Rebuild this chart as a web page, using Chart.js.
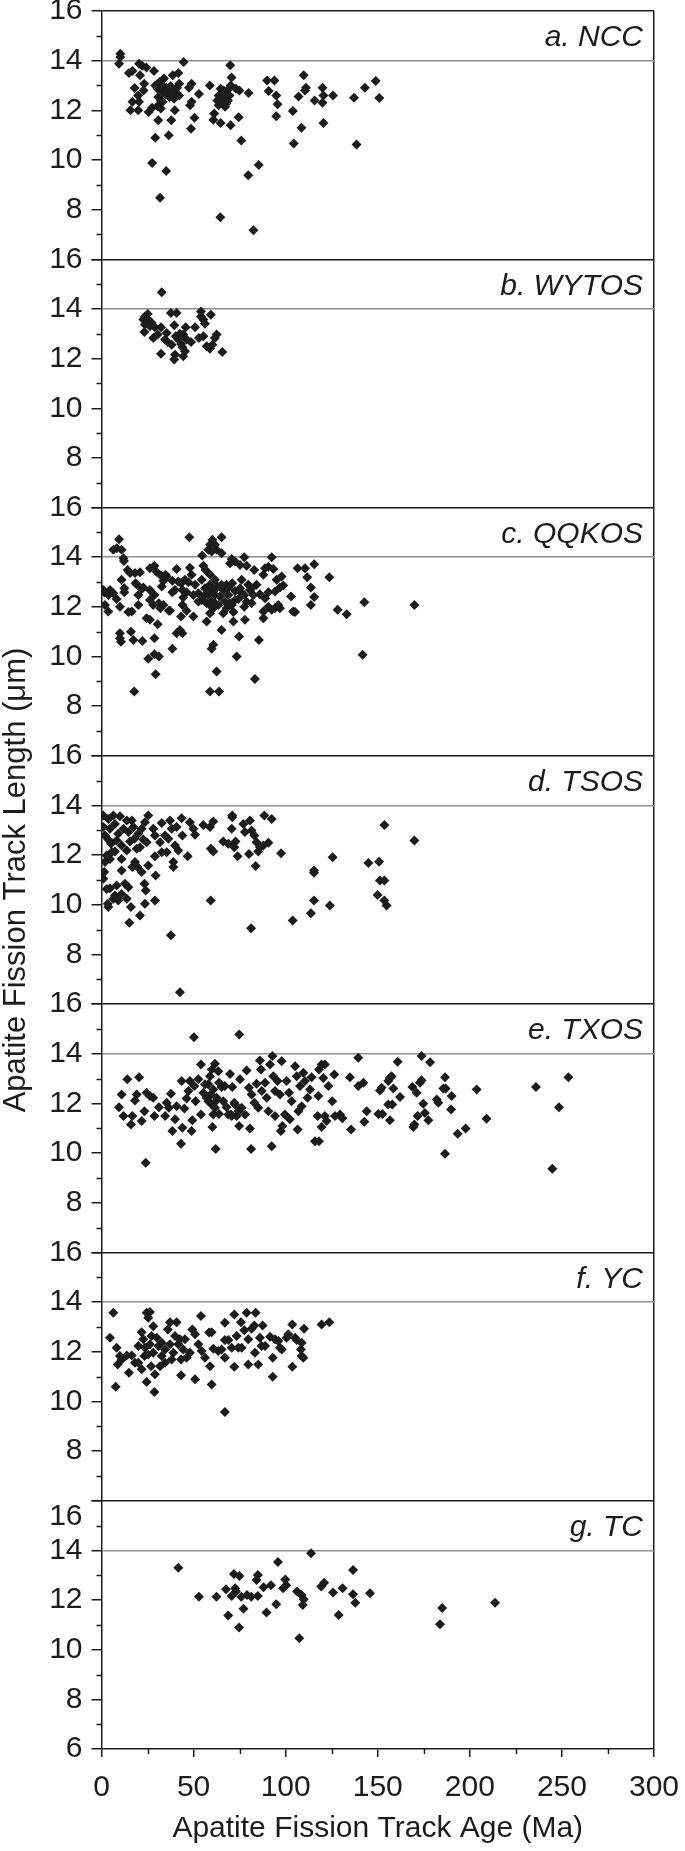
<!DOCTYPE html>
<html>
<head>
<meta charset="utf-8">
<script src="https://cdn.jsdelivr.net/npm/chart.js@4.4.0/dist/chart.umd.min.js"></script>
<style>
	html, body { margin: 0; padding: 0; background: #fff; }
	canvas { display: block; }
</style>
</head>
<body>
<canvas id="aftChart" width="685" height="1851"></canvas>
<script>
// Apatite fission track age (Ma) vs mean track length (µm), one list of [age, length] per region

const nccPoints = [
	[10.2,14.28],[10.2,14.15],[9.5,13.88],[14.9,13.5],[16.8,13.58],[20.4,13.88],[22.1,13.79],[24.4,13.72],[20.9,13.41],[18.0,12.9],
	[23.2,13.07],[22.8,12.8],[19.9,12.6],[16.8,12.34],[20.4,12.34],[15.7,12.0],[19.9,12.0],[28.5,13.58],[25.6,11.93],[27.5,12.1],
	[29.2,13.0],[31.5,13.14],[33.9,13.28],[30.4,12.87],[32.7,12.8],[30.8,12.54],[32.2,12.4],[30.4,12.16],[32.2,12.07],[35.1,12.91],
	[36.3,12.74],[37.5,12.97],[38.7,13.41],[39.8,12.83],[39.4,12.47],[41.0,12.91],[41.7,13.5],[42.2,13.07],[40.3,12.66],[39.8,12.0],
	[44.6,13.95],[30.8,11.6],[37.9,11.6],[29.2,10.9],[36.5,11.0],[48.6,11.26],[48.1,12.2],[48.9,12.34],[47.5,12.91],[48.9,13.07],
	[50.5,11.7],[52.9,12.66],[27.5,9.88],[35.1,9.56],[31.8,8.48],[58.8,13.0],[61.2,11.87],[60.7,11.62],[62.9,12.4],[63.6,12.2],
	[64.7,12.87],[65.5,12.3],[66.4,12.47],[67.1,12.6],[67.8,12.27],[68.3,12.8],[68.7,12.4],[69.5,12.6],[69.9,13.81],[70.6,13.32],
	[70.1,13.0],[64.7,11.49],[70.1,11.4],[73.0,12.87],[74.9,12.8],[74.5,11.72],[75.9,10.78],[64.5,7.69],[79.7,9.38],[85.4,9.8],
	[82.5,7.17],[79.9,12.7],[89.9,13.2],[93.9,13.2],[90.8,12.78],[94.9,12.6],[95.6,12.24],[94.9,11.76],[103.9,11.97],[104.4,10.66],
	[107.0,12.56],[108.6,11.3],[109.8,13.41],[111.0,12.91],[110.5,12.8],[115.7,12.4],[120.0,12.91],[120.5,12.6],[120.0,12.3],[120.5,11.49],
	[125.7,12.6],[137.1,12.51],[138.5,10.62],[143.0,12.91],[148.9,13.18],[150.8,12.5],[33.2,12.97],[34.6,12.65],[37.0,12.54],[38.7,12.74],
	[31.5,13.0],[33.2,12.34],[42.2,12.6],[63.6,12.6],[65.9,12.66],[67.1,12.14],[68.3,12.54],[66.4,12.8]
];

const wytosPoints = [
	[32.7,14.67],[23.6,13.7],[25.1,13.8],[22.7,13.57],[25.4,13.57],[27.2,13.44],[23.6,13.37],[23.3,13.07],[26.3,13.3],[29.0,13.26],
	[32.3,13.26],[28.1,12.83],[30.5,12.97],[35.4,13.03],[34.5,12.77],[35.9,12.67],[37.7,13.84],[40.8,13.84],[39.5,13.34],[40.3,12.9],
	[41.7,12.77],[43.2,12.59],[44.4,12.97],[45.7,13.26],[46.2,12.77],[43.9,12.46],[48.6,12.67],[45.3,12.3],[44.4,12.09],[39.9,12.16],
	[39.5,11.96],[32.3,12.2],[50.8,13.26],[54.0,13.9],[54.0,13.7],[55.3,13.57],[56.2,13.4],[59.4,13.77],[52.9,12.83],[55.3,12.9],
	[57.1,12.5],[58.9,12.4],[60.2,12.56],[62.5,12.97],[61.6,12.83],[65.6,12.27],[38.1,12.56],[42.6,13.0]
];

const qqkosPoints = [
	[169.9,12.08],
	[9.5,14.72],[6.4,14.3],[8.2,14.36],[10.9,14.3],[11.9,13.96],[12.2,13.85],[47.7,14.8],[65.2,14.8],[60.2,14.7],[58.9,14.5],
	[61.6,14.5],[58.0,14.3],[62.5,14.3],[59.8,14.23],[65.2,14.16],[54.7,14.07],[77.5,14.0],[92.4,14.0],[70.7,13.93],
	[14.2,13.49],[15.5,13.36],[18.2,13.36],[20.9,13.4],[10.9,13.09],[12.4,12.75],[18.5,12.95],[26.3,13.56],[28.7,13.66],[29.9,13.42],
	[32.3,13.26],[33.6,13.05],[34.8,13.29],[40.8,13.53],[38.5,13.05],[48.0,13.58],[48.9,13.29],[45.3,13.09],[43.2,12.95],[55.3,13.66],
	[56.5,13.49],[58.9,13.29],[69.8,13.76],[72.5,13.83],[75.2,13.69],[78.8,13.66],[82.9,13.49],[88.8,13.56],[90.6,13.62],[93.3,13.53],
	[87.9,13.29],[95.1,13.09],[97.8,13.22],[106.5,13.56],[110.5,13.56],[115.5,13.72],[111.7,13.19],[123.7,13.19],[113.7,12.78],[115.5,12.4],
	[113.7,12.08],[128.2,11.88],[133.1,11.7],[142.7,12.19],[141.8,10.07],
	[1.0,12.68],[1.5,12.59],[3.7,12.48],[6.4,12.55],[8.2,12.32],[4.6,12.68],[1.9,12.08],[3.7,11.81],[10.0,12.01],[12.4,12.59],
	[16.4,11.81],[19.1,12.91],[22.7,12.78],[26.3,12.68],[28.7,12.48],[26.3,12.28],[28.1,12.08],[31.1,12.15],[32.0,11.95],[33.6,12.08],
	[37.2,11.84],[32.7,12.82],[35.4,13.22],[39.9,12.68],[38.5,12.59],[41.7,13.02],[43.9,12.68],[44.4,12.38],[46.2,12.59],[47.2,12.99],
	[43.9,12.08],[46.2,11.84],[43.2,11.61],[49.9,11.61],[49.9,12.48],[50.8,12.89],[52.6,12.55],[54.4,12.28],[52.6,12.22],[54.4,13.09],
	[56.2,12.75],[58.0,12.48],[57.1,12.15],[58.9,12.89],[59.8,12.22],[60.7,12.62],[60.7,11.95],[58.9,11.74],[57.1,11.41],[61.6,13.09],
	[63.1,12.82],[64.3,12.42],[63.4,12.08],[66.1,12.68],[66.1,11.74],[67.9,12.89],[68.8,12.48],[69.8,12.15],[71.0,12.95],[72.5,12.64],
	[71.6,11.79],[71.6,11.41],[74.3,12.32],[75.2,12.75],[76.1,13.09],[77.5,12.48],[77.5,12.01],[77.9,11.48],[79.7,12.89],[80.6,12.68],
	[82.4,12.48],[81.5,12.15],[84.2,12.89],[86.0,12.51],[88.8,12.35],[90.6,12.59],[87.9,11.81],[87.9,11.54],[90.6,12.01],[92.4,11.88],
	[94.2,11.95],[96.0,12.08],[96.9,11.95],[94.2,12.62],[96.9,12.78],[98.7,12.86],[102.9,12.42],[104.1,11.81],[105.1,11.79],
	[65.2,11.07],[74.7,10.81],[85.5,10.67],[73.4,10.0],[83.3,9.1],[62.5,9.4],[59.8,10.31],[60.7,10.47],[58.9,8.59],[63.8,8.59],
	[17.8,8.59],[29.4,9.29],[25.4,9.91],[28.7,10.09],[31.2,10.0],[28.7,10.74],[22.2,10.63],[17.3,10.67],[16.0,11.0],[10.0,10.94],
	[10.6,10.6],[24.5,11.54],[26.3,11.48],[30.5,11.3],[38.5,10.31],[40.8,10.94],[42.6,11.07],[43.9,10.94],[36.6,11.84],[14.6,11.79],
	[10.0,10.74],[20.0,12.08],[20.0,12.48],[21.8,12.72],
	[56.2,12.48],[61.6,12.48],[67.0,12.21],[72.5,12.28],[65.2,12.89],[68.8,12.75],[59.8,12.68],[76.1,12.55],[70.7,12.08],[68.0,11.95],
	[78.8,12.21],[81.5,12.75],[61.6,12.15],[58.9,12.08]
];

const tsosPoints = [
	[153.6,13.22],[169.9,12.59],[150.7,11.74],[151.2,10.98],[153.6,10.98],[149.9,10.4],[153.6,10.17],[154.8,9.97],
	[144.9,11.68],[125.5,11.92],[124.0,9.97],[115.4,11.38],[115.4,11.29],[115.4,10.17],[113.7,9.66],[103.8,9.37],[97.5,12.08],[92.4,13.46],
	[88.4,13.6],[81.2,9.06],[83.7,11.56],[80.1,12.05],[73.9,11.96],[80.6,13.4],[77.0,13.26],[77.9,12.93],[81.5,12.99],[83.0,12.79],
	[84.2,12.52],[86.0,12.32],[87.9,12.39],[90.6,12.5],[85.1,12.15],[71.0,13.53],[70.7,13.06],[66.1,12.55],[68.9,12.46],[72.8,12.55],
	[72.1,12.32],[71.0,13.6],[60.7,13.36],[58.9,13.13],[55.3,13.22],[59.4,12.26],[60.7,12.15],[59.3,10.17],[42.6,6.48],[37.7,8.77],
	[50.8,12.82],[49.9,13.06],[48.0,13.33],[46.8,11.96],[43.5,13.49],[43.9,12.79],[40.8,13.13],[39.9,12.39],[41.7,12.19],[37.2,13.4],
	[38.1,13.06],[36.3,12.66],[39.0,11.52],[39.0,11.72],[35.4,12.12],[32.7,13.3],[31.8,12.52],[29.0,12.79],[29.0,11.96],[29.4,11.18],
	[25.4,13.6],[23.6,13.33],[25.4,11.58],[21.8,11.32],[24.5,12.52],[19.6,11.52],[16.7,11.52],[10.9,11.38],[29.0,10.17],[23.6,10.04],
	[24.0,10.58],[23.3,10.85],[20.9,9.57],[15.1,9.28],[16.0,9.91],[3.7,9.91],[3.4,10.04],[2.8,10.64],[4.6,10.67],[7.3,10.38],
	[9.1,10.17],[10.9,10.44],[13.7,10.24],[14.6,10.71],[12.8,10.85],[8.2,10.78],[6.4,10.24],[1.5,11.32],[1.0,11.05],[1.9,11.72],
	[2.8,11.99],[5.5,12.12],[4.6,11.85],[10.9,11.85],[18.2,11.72],[19.1,12.26],[17.8,12.66],[13.7,12.19],[10.9,12.39],[8.2,12.59],
	[5.2,12.46],[1.9,12.79],[1.0,13.13],[1.0,13.6],[3.7,13.46],[6.4,13.6],[10.0,13.57],[13.7,13.4],[16.4,13.4],[17.3,13.13],
	[14.6,12.93],[11.9,13.06],[7.3,13.26],[4.6,13.06],[9.1,12.86],[3.7,12.63],[7.3,12.15],[15.5,12.55],[20.9,12.32],[22.7,12.63],
	[20.0,12.86],[21.8,13.06],[32.7,12.12],[28.1,13.06],[34.5,12.79]
];

const txosPoints = [
	[160.8,13.68],[173.8,13.91],[178.4,13.66],[186.5,13.06],[156.6,13.03],[157.5,13.1],[155.7,12.9],[152.1,12.63],[151.2,12.52],[158.5,12.6],
	[162.1,12.26],[155.7,11.96],[157.9,11.96],[150.3,11.58],[152.5,11.58],[156.6,11.32],[168.8,12.66],[171.1,12.43],[173.8,12.93],[172.9,12.83],
	[174.7,11.99],[175.6,11.62],[177.5,11.32],[171.7,11.49],[169.9,11.15],[169.3,11.05],[182.0,12.16],[182.9,12.03],[185.6,12.6],[186.9,12.6],
	[190.1,12.3],[189.8,11.76],[193.4,10.78],[197.7,10.99],[186.5,9.97],[203.7,12.56],[209.1,11.38],[235.9,12.66],[253.5,13.06],[248.4,11.85],
	[244.8,9.37],
	[50.2,14.67],[74.8,14.78],[24.0,9.61],[9.5,11.85],[10.9,12.36],[11.9,11.49],[14.0,12.97],[16.0,11.15],[16.7,11.49],[18.2,12.12],
	[19.1,12.36],[20.4,13.06],[21.8,11.29],[23.3,11.69],[24.5,12.43],[26.3,12.3],[28.1,12.23],[28.7,11.49],[31.2,11.85],[34.5,11.49],
	[35.4,12.03],[36.6,11.83],[37.7,12.39],[38.5,10.89],[39.9,11.36],[40.8,11.89],[43.2,10.38],[43.5,12.9],[43.9,11.02],[45.0,11.8],
	[46.2,12.2],[47.2,12.5],[48.0,12.9],[48.9,10.89],[49.3,11.32],[50.4,12.7],[51.1,12.09],[52.6,12.97],[54.0,13.57],[54.0,11.56],
	[55.3,12.43],[56.2,12.77],[57.1,12.23],[58.9,13.1],[59.8,13.37],[60.7,12.56],[60.2,11.05],[61.6,13.6],[62.0,12.09],[62.0,10.17],
	[63.4,13.3],[63.8,12.83],[63.8,11.58],[65.2,12.66],[66.1,12.09],[67.0,12.7],[67.9,11.85],[69.8,13.19],[70.3,11.56],[71.0,12.66],
	[72.1,12.03],[73.4,11.49],[74.7,11.09],[75.2,12.97],[76.1,11.83],[78.8,13.33],[78.0,11.56],[80.1,12.63],[80.6,10.99],[81.2,10.17],
	[81.5,12.36],[83.0,12.03],[84.2,12.79],[85.1,11.83],[86.0,13.73],[86.6,13.37],[87.0,12.5],[88.8,12.83],[89.7,12.23],[90.6,11.69],
	[91.5,13.57],[92.8,13.91],[92.4,10.28],[93.3,13.1],[94.2,12.5],[95.6,12.9],[94.2,11.49],[96.9,12.36],[97.4,10.89],[97.8,13.7],
	[98.2,11.09],[99.6,11.56],[100.5,12.9],[101.8,12.43],[102.3,11.36],[103.2,12.09],[105.1,13.5],[106.0,13.1],[106.5,10.95],[106.9,11.69],
	[107.8,12.7],[108.7,11.89],[109.6,13.24],[110.5,12.9],[111.9,12.23],[113.2,12.56],[114.1,13.06],[115.9,10.48],[118.1,10.48],[117.4,11.49],
	[117.7,12.3],[118.1,13.37],[119.5,13.57],[121.3,13.57],[120.4,13.03],[119.5,11.05],[121.3,11.49],[122.2,11.29],[123.2,12.7],[125.3,12.09],
	[126.4,13.17],[126.8,11.49],[129.5,11.56],[130.8,11.4],[134.9,13.06],[135.5,10.95],[139.4,13.84],[139.4,12.7],[142.2,12.83],[142.7,11.26],
	[144.0,11.69],
	[58.0,12.09],[59.8,11.96],[61.6,11.83],[59.4,12.36],[58.0,12.77],[62.5,12.23],[60.7,11.56],[68.9,11.56],[70.7,11.49],[72.5,11.96],
	[74.3,11.69]
];

const ycPoints = [
	[6.4,13.57],[4.6,12.56],[8.2,12.16],[10.0,11.83],[8.8,11.49],[7.7,10.59],[14.9,11.15],[13.7,11.85],[16.4,11.85],[20.0,12.23],
	[20.0,11.56],[21.8,12.79],[22.7,12.5],[23.6,12.16],[21.8,11.29],[24.5,10.78],[28.7,10.38],[24.5,13.57],[26.3,13.6],[25.4,13.37],
	[28.1,13.03],[27.2,12.63],[26.3,12.3],[28.1,11.96],[26.9,11.42],[30.0,12.56],[30.9,12.23],[29.0,11.09],[31.8,11.42],[32.7,11.83],
	[34.5,12.09],[36.0,12.9],[37.2,13.19],[37.2,12.3],[39.0,11.96],[40.8,13.19],[41.7,12.3],[42.6,12.5],[43.2,11.69],[43.2,11.05],
	[44.4,12.09],[46.2,11.76],[48.0,11.96],[49.3,12.9],[50.8,12.7],[50.8,10.89],[52.6,12.3],[54.0,13.44],[54.4,12.03],[56.2,11.76],
	[58.4,12.77],[59.8,12.79],[58.9,11.42],[59.8,10.68],[60.7,12.12],[63.4,12.03],[67.0,13.17],[67.0,12.47],[67.0,11.76],[67.0,9.57],
	[68.9,12.47],[70.7,12.16],[72.1,13.5],[72.1,11.4],[73.4,12.63],[75.7,13.19],[76.1,12.16],[77.5,12.87],[78.8,13.57],[79.7,12.5],
	[79.7,11.49],[81.5,12.93],[83.0,13.06],[83.7,13.57],[83.3,11.96],[85.1,11.49],[86.0,12.56],[86.9,12.23],[87.5,13.06],[88.8,12.23],
	[91.5,12.6],[93.0,11.76],[93.0,10.99],[94.2,12.5],[96.0,12.43],[96.9,12.16],[97.9,12.09],[100.5,12.56],[101.4,12.7],[103.6,13.1],
	[103.6,11.4],[105.1,12.56],[106.0,12.47],[108.3,12.09],[108.7,11.83],[109.6,11.76],[108.7,12.36],[110.0,12.93],[119.5,13.1],[123.7,13.19],
	[11.0,11.69],[18.2,11.56],[23.3,11.83],[32.7,12.36],[38.1,11.69],[39.9,12.63],[45.3,12.5],[65.2,12.09],[74.3,12.16],[25.4,11.89],
	[34.5,11.56]
];

const tcPoints = [
	[41.7,13.3],[52.9,12.13],[62.4,12.13],[67.6,12.43],[68.8,11.38],[70.7,12.16],[71.9,13.05],[72.6,12.47],[73.0,12.34],[74.9,12.97],
	[74.7,10.89],[75.9,12.13],[77.1,11.65],[79.0,12.2],[81.3,12.13],[84.2,12.81],[84.9,13.01],[84.9,12.16],[88.0,12.51],[89.6,11.5],
	[92.0,12.6],[94.9,11.83],[95.8,13.53],[98.6,12.47],[99.8,12.83],[100.3,12.6],[106.2,12.34],[107.4,10.46],[108.6,12.2],[109.8,12.03],
	[109.3,11.8],[113.8,13.88],[119.3,12.54],[120.9,12.7],[125.7,12.3],[128.8,11.4],[130.9,12.47],[136.6,13.21],[136.6,12.23],[137.8,11.89],
	[145.8,12.27],[183.8,11.02],[185.0,11.68],[213.7,11.89]
];

const panelIds = ["yA", "yB", "yC", "yD", "yE", "yF", "yG"];
const panelLabels = ["a. NCC", "b. WYTOS", "c. QQKOS", "d. TSOS", "e. TXOS", "f. YC", "g. TC"];
const panelPoints = [nccPoints, wytosPoints, qqkosPoints, tsosPoints, txosPoints, ycPoints, tcPoints];
const lengthTicks = { min: 6, max: 16, step: 2 };
const ageTicks = { min: 0, max: 300, step: 50 };

const INK = "#1c1c1c";
const GRID_GREY = "#8f8f8f";
const FONT = '"Liberation Sans", Arial, Helvetica, sans-serif';

function panelAxis(i) {
	const last = i === panelIds.length - 1;
	return {
		type: "linear",
		position: "left",
		stack: "panels",
		stackWeight: 1,
		min: lengthTicks.min,
		max: lengthTicks.max,
		border: { display: true, color: INK, width: 1.5 },
		grid: {
			color: (c) => (c.tick.value === 16 ? INK : c.tick.value === 14 ? GRID_GREY : "rgba(0,0,0,0)"),
			lineWidth: 1.5,
			tickColor: INK,
			tickLength: 10,
		},
		ticks: {
			stepSize: lengthTicks.step,
			autoSkip: false,
			padding: 9,
			color: INK,
			font: { family: FONT, size: 30, lineHeight: 1.1 },
			callback: (v) => {
				if (!last && v === 6) return "";
				if (last && v === 16) return ["", "16"]; // panel g prints its 16 a little low
				return String(v);
			},
		},
		title: {
			display: i === 3,
			text: "Apatite Fission Track Length (μm)",
			color: INK,
			font: { family: FONT, size: 31, lineHeight: 1.05 },
			padding: { top: 0, bottom: 0 },
		},
		afterFit: (scale) => {
			scale.width = 101.5;
			scale.paddingTop = 0;
			scale.paddingBottom = 0;
		},
	};
}

// stacked axes: later keys go on top, so add panel g first
const scales = {
	x: {
		type: "linear",
		min: ageTicks.min,
		max: ageTicks.max,
		border: { display: true, color: INK, width: 1.5 },
		grid: {
			color: (c) => (c.tick.value === 300 ? INK : "rgba(0,0,0,0)"),
			lineWidth: 1.5,
			tickColor: INK,
			tickLength: 8,
		},
		ticks: {
			stepSize: ageTicks.step,
			autoSkip: false,
			padding: 13,
			color: INK,
			maxRotation: 0,
			font: { family: FONT, size: 30, lineHeight: 1.2 },
		},
		title: {
			display: true,
			text: "Apatite Fission Track Age (Ma)",
			color: INK,
			font: { family: FONT, size: 30, lineHeight: 1.2 },
			padding: { top: 0, bottom: 4 },
		},
		afterFit: (scale) => {
			scale.height = 102;
			scale.paddingLeft = 0;
			scale.paddingRight = 0;
		},
	},
};
for (let i = panelIds.length - 1; i >= 0; i--) {
	scales[panelIds[i]] = panelAxis(i);
}

const datasets = panelPoints.map((pts, i) => ({
	label: panelLabels[i],
	yAxisID: panelIds[i],
	data: pts.map(([age, len]) => ({ x: age, y: len })),
	pointStyle: "rectRot",
	pointRadius: 5,
	pointHoverRadius: 5,
	backgroundColor: INK,
	borderWidth: 0,
	showLine: false,
}));

// minor ticks and the panel names
const panelDecor = {
	id: "panelDecor",
	afterDraw(chart) {
		const { ctx, chartArea } = chart;
		ctx.save();
		ctx.strokeStyle = INK;
		ctx.lineWidth = 1.5;
		ctx.beginPath();
		panelIds.forEach((id) => {
			const s = chart.scales[id];
			for (let v = s.min + 1; v < s.max; v += 2) {
				const y = Math.round(s.getPixelForValue(v)) + 0.5;
				ctx.moveTo(chartArea.left - 5, y);
				ctx.lineTo(chartArea.left, y);
			}
		});
		const xs = chart.scales.x;
		for (let v = ageTicks.min + ageTicks.step / 2; v < ageTicks.max; v += ageTicks.step) {
			const x = Math.round(xs.getPixelForValue(v)) + 0.5;
			ctx.moveTo(x, chartArea.bottom);
			ctx.lineTo(x, chartArea.bottom + 5);
		}
		ctx.stroke();

		ctx.fillStyle = INK;
		ctx.font = "italic 30px " + FONT;
		ctx.textAlign = "right";
		ctx.textBaseline = "middle";
		panelIds.forEach((id, i) => {
			const s = chart.scales[id];
			ctx.fillText(panelLabels[i], chartArea.right - 11, s.top + 27);
		});
		ctx.restore();
	},
};

const chart = new Chart(document.getElementById("aftChart"), {
	type: "scatter",
	data: { datasets },
	options: {
		responsive: false,
		animation: false,
		layout: { padding: { top: 11, right: 31, bottom: 0, left: 0 } },
		plugins: { legend: { display: false }, tooltip: { enabled: false } },
		scales,
	},
	plugins: [panelDecor],
});
</script>
</body>
</html>
